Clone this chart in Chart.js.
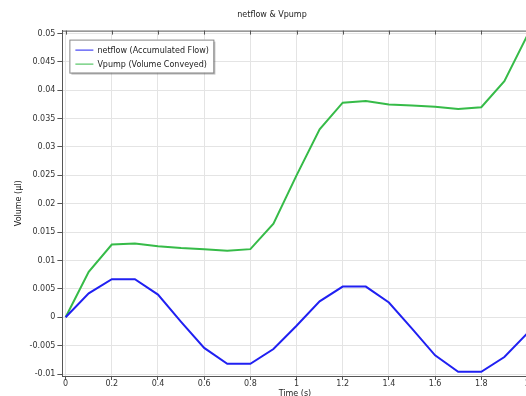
<!DOCTYPE html>
<html>
<head>
<meta charset="utf-8">
<script src="https://cdn.jsdelivr.net/npm/chart.js@4"></script>
<style>
  html, body { margin: 0; padding: 0; background: #fff; overflow: hidden; }
  #wrap { width: 530px; height: 396px; }
</style>
</head>
<body>
<div id="wrap"><canvas id="grafico"></canvas></div>
<script>
// tiempo (s)
tiempos = [0, 0.1, 0.2, 0.3, 0.4, 0.5, 0.6, 0.7, 0.8, 0.9, 1.0,
           1.1, 1.2, 1.3, 1.4, 1.5, 1.6, 1.7, 1.8, 1.9, 2.0];
// volumen (µl)
netflow = [0, 0.0042, 0.0067, 0.0067, 0.0040, -0.0008, -0.0054, -0.0082, -0.0082, -0.0056, -0.0015,
           0.0028, 0.0054, 0.0054, 0.0026, -0.0020, -0.0067, -0.0096, -0.0096, -0.0070, -0.0028];
vpump = [0, 0.0080, 0.0128, 0.0130, 0.0125, 0.0122, 0.0120, 0.0117, 0.0120, 0.0165, 0.0250,
         0.0331, 0.0378, 0.0381, 0.0375, 0.0373, 0.0371, 0.0367, 0.0370, 0.0416, 0.0497];
etiquetas = ["netflow (Accumulated Flow)", "Vpump (Volume Conveyed)"];
colores = ["#2020f2", "#36bb48"];

function puntos(ys){
    pts = [];
    for (i = 0; i < tiempos.length; i++) {
        pts.push({x: tiempos[i], y: ys[i]});
    }
    return pts;
}

fuente = "'DejaVu Sans', sans-serif";
Chart.defaults.font.family = fuente;
Chart.defaults.font.size = 8;
Chart.defaults.color = "#333";

// leyenda dentro del area y marco superior
marcoYLeyenda = {
    id: 'marcoYLeyenda',
    afterDraw(chart){
        c = chart.ctx;
        area = chart.chartArea;
        sx = chart.scales.x;
        c.save();
        // borde superior con ticks
        c.strokeStyle = "#555";
        c.lineWidth = 1;
        c.beginPath();
        c.moveTo(area.left, area.top + 0.5);
        c.lineTo(area.right, area.top + 0.5);
        sx.ticks.forEach(t => {
            px = Math.round(sx.getPixelForValue(t.value)) + 0.5;
            c.moveTo(px, area.top);
            c.lineTo(px, area.top + 4);
        });
        c.stroke();
        // caja de leyenda
        bx = area.left + 7; by = area.top + 9; bw = 144; bh = 33;
        c.fillStyle = "rgba(0,0,0,0.25)";
        c.fillRect(bx + 2, by + 2, bw, bh);
        c.fillStyle = "#fff";
        c.fillRect(bx, by, bw, bh);
        c.strokeStyle = "#888";
        c.strokeRect(bx + 0.5, by + 0.5, bw, bh);
        c.font = "8px " + fuente;
        c.textBaseline = "middle";
        chart.data.datasets.forEach((ds, k) => {
            ly = by + 10 + k * 14;
            c.strokeStyle = ds.borderColor;
            c.lineWidth = 1;
            c.beginPath();
            c.moveTo(bx + 6, ly + 0.5);
            c.lineTo(bx + 24, ly + 0.5);
            c.stroke();
            c.fillStyle = "#222";
            c.fillText(ds.label, bx + 28, ly + 1);
        });
        c.restore();
    }
};

const ctx = document.getElementById('grafico');

new Chart(ctx, {
  type: 'line',
  data: {
    datasets: [
      {label: etiquetas[0], data: puntos(netflow), borderColor: colores[0], borderWidth: 2, pointRadius: 0, tension: 0},
      {label: etiquetas[1], data: puntos(vpump), borderColor: colores[1], borderWidth: 2, pointRadius: 0, tension: 0}
    ]
  },
  options: {
    responsive: true,
    maintainAspectRatio: false,
    animation: false,
    layout: {padding: {top: 6, left: 14, right: 0, bottom: -2}},
    plugins: {
      legend: {display: false},
      tooltip: {enabled: false},
      title: {display: true, text: 'netflow & Vpump', color: '#222', font: {size: 8, weight: 'normal'}, padding: {top: 4, bottom: 11}}
    },
    scales: {
      x: {
        type: 'linear',
        min: -0.014,
        max: 2.0,
        afterBuildTicks(s){
            s.ticks = [];
            for (v = 0; v <= 10; v++) s.ticks.push({value: v * 0.2});
        },
        ticks: {
            callback: v => String(Number(v.toFixed(1))),
            padding: 0, maxRotation: 0, autoSkip: false, color: '#333',
            font: {size: 8, lineHeight: 1}
        },
        grid: {color: '#e4e4e4', tickColor: '#555', tickLength: 4},
        border: {color: '#555', width: 1},
        title: {display: true, text: 'Time (s)', color: '#222', font: {size: 8, lineHeight: 1}, padding: {top: 2, bottom: 0}}
      },
      y: {
        min: -0.01035,
        max: 0.0505,
        afterBuildTicks(s){
            s.ticks = [];
            for (v = -2; v <= 10; v++) s.ticks.push({value: v * 0.005});
        },
        ticks: {
            callback: v => String(Number(v.toFixed(3))),
            padding: 2, autoSkip: false, color: '#333'
        },
        grid: {color: '#e4e4e4', tickColor: '#555', tickLength: 5},
        border: {color: '#555', width: 1},
        title: {display: true, text: 'Volume (µl)', color: '#222', padding: {top: 0, bottom: 4}}
      }
    }
  },
  plugins: [marcoYLeyenda]
});
</script>
</body>
</html>
